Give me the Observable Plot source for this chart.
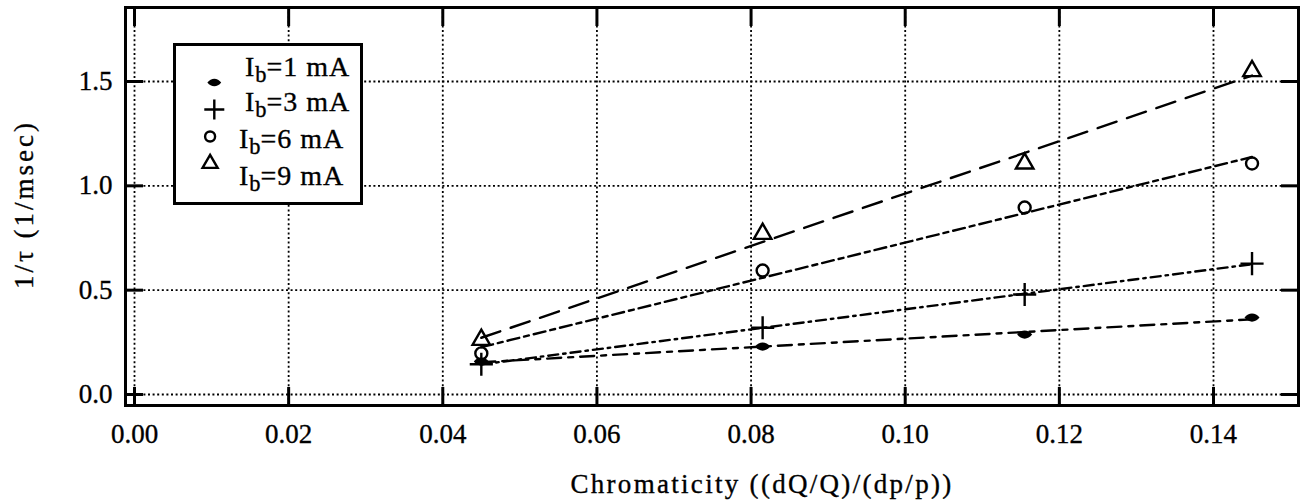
<!DOCTYPE html>
<html>
<head>
<meta charset="utf-8">
<script src="https://cdn.jsdelivr.net/npm/d3@7"></script>
<script src="https://cdn.jsdelivr.net/npm/@observablehq/plot@0.6"></script>
<style>
  html, body { margin: 0; padding: 0; background: #fff; }
  #wrap { position: relative; width: 1301px; height: 503px; font-family: "Liberation Serif", serif; color: #000; }
  #wrap svg { font-family: "Liberation Serif", serif; }
  #wrap > svg text { stroke: #000; stroke-width: 0.35px; }
  #legend { position: absolute; left: 173px; top: 43px; width: 190px; height: 162px; box-sizing: border-box;
            border: 3px solid #000; background: #fff; }
  #legend .sym { position: absolute; left: 0; top: 0; }
  #legend .row { position: absolute; font-size: 28px; letter-spacing: 1px; line-height: 1; white-space: nowrap;
                 -webkit-text-stroke: 0.35px #000; }
  #legend sub { font-size: 80%; vertical-align: -0.28em; line-height: 0; letter-spacing: 0; }
</style>
</head>
<body>
<div id="wrap"></div>
<script>
// ---- data ----
const chromaticity = [0.045, 0.0815, 0.1155, 0.145];
const rate1mA = [0.158, 0.23, 0.287, 0.369];
const rate3mA = [0.145, 0.32, 0.479, 0.627];
const rate6mA = [0.197, 0.594, 0.896, 1.107];
const rate9mA = [0.262, 0.77, 1.107, 1.55];
const currents = ["1 mA", "3 mA", "6 mA", "9 mA"];
const xTicks = [0, 0.02, 0.04, 0.06, 0.08, 0.10, 0.12, 0.14];
const yTicks = [0, 0.5, 1.0, 1.5];
const xTitle = "Chromaticity ((dQ/Q)/(dp/p))";
const yTitle = "1/τ (1/msec)";

// ---- styling ----
const lens = {
  draw(context, size) {
    const r = Math.sqrt(size / Math.PI);
    context.moveTo(-1.5 * r, 0);
    context.bezierCurveTo(-0.7 * r, -1.1 * r, 0.7 * r, -1.1 * r, 1.5 * r, 0);
    context.bezierCurveTo(0.7 * r, 1.1 * r, -0.7 * r, 1.1 * r, -1.5 * r, 0);
    context.closePath();
  }
};
const styles = [
  {symbol: lens, r: 5, filled: true, dash: "14,7,5,7"},
  {symbol: "plus", r: 7.5, filled: false, dash: "10,5,2.5,5"},
  {symbol: "circle", r: 6, filled: false, dash: "12,5,5,5"},
  {symbol: "triangle", r: 6.5, filled: false, dash: "20,11"}
];
const legendStyles = [
  {symbol: lens, r: 4.6, filled: true},
  {symbol: "plus", r: 6.5, filled: false},
  {symbol: "circle", r: 5, filled: false},
  {symbol: "triangle", r: 5.6, filled: false}
];
const values = [rate1mA, rate3mA, rate6mA, rate9mA];
const series = currents.map((c, i) => ({
  name: c,
  style: styles[i],
  legendStyle: legendStyles[i],
  rows: chromaticity.map((x, j) => ({x, y: values[i][j], current: c}))
}));

function dotMark(data, st, extra = {}) {
  return Plot.dot(data, {
    x: "x", y: "y", symbol: st.symbol, r: st.r,
    fill: st.filled ? "black" : "none",
    stroke: st.filled ? "none" : "black",
    strokeWidth: 2.4, ...extra
  });
}

const fontSize = 27;
const chart = Plot.plot({
  width: 1301,
  height: 503,
  marginLeft: 125,
  marginRight: 3,
  marginTop: 7,
  marginBottom: 98,
  style: {fontFamily: "Liberation Serif", background: "white", color: "black", overflow: "visible"},
  x: {domain: [-0.001168, 0.15103], axis: null},
  y: {domain: [-0.0527, 1.8546], axis: null},
  marks: [
    Plot.gridX(xTicks, {stroke: "black", strokeOpacity: 1, strokeWidth: 1.8, strokeDasharray: "2,2.6"}),
    Plot.gridY(yTicks, {stroke: "black", strokeOpacity: 1, strokeWidth: 1.8, strokeDasharray: "2,2.6"}),
    // inward ticks on all four sides
    Plot.axisX(xTicks, {anchor: "bottom", tickSize: -18, strokeWidth: 3, fill: "none"}),
    Plot.axisX(xTicks, {anchor: "top", tickSize: -18, strokeWidth: 3, fill: "none"}),
    Plot.axisY(yTicks, {anchor: "left", tickSize: -18, strokeWidth: 3, fill: "none"}),
    Plot.axisY(yTicks, {anchor: "right", tickSize: -18, strokeWidth: 3, fill: "none"}),
    // tick labels
    Plot.axisX(xTicks, {anchor: "bottom", tickSize: 0, tickPadding: 18, fontSize, tickFormat: d3.format(".2f"), label: null}),
    Plot.axisY(yTicks, {anchor: "left", tickSize: 0, tickPadding: 13, fontSize, tickFormat: d3.format(".1f"), label: null}),
    Plot.frame({stroke: "black", strokeWidth: 3}),
    // fitted lines
    ...series.map(s => Plot.linearRegressionY(s.rows, {x: "x", y: "y", stroke: "black", strokeWidth: 2.4, strokeDasharray: s.style.dash, ci: 0})),
    // data points
    ...series.map(s => dotMark(s.rows, s.style)),
    // axis titles
    Plot.text([xTitle], {frameAnchor: "bottom", textAnchor: "middle", dx: 50, dy: 79, lineAnchor: "middle", fontSize, fill: "black"}),
    Plot.text([yTitle], {frameAnchor: "left", textAnchor: "middle", dx: -101, dy: -2, rotate: -90, lineAnchor: "middle", fontSize, fill: "black"})
  ]
});

d3.select(chart).selectAll("text")
  .filter(function() { return this.textContent === xTitle; })
  .style("letter-spacing", "2.3px");
d3.select(chart).selectAll("text")
  .filter(function() { return this.textContent === yTitle; })
  .style("letter-spacing", "3px");

const wrap = document.getElementById("wrap");
wrap.appendChild(chart);

// ---- legend ----
const legend = document.createElement("div");
legend.id = "legend";
const rowCenters = [22, 57, 94, 131];
const rowLefts = [69, 69, 63, 63];
const legendPlot = Plot.plot({
  width: 70, height: 156, margin: 0,
  style: {background: "transparent", overflow: "visible"},
  x: {domain: [0, 1], axis: null},
  y: {type: "point", domain: currents, range: [rowCenters[0], rowCenters[3]], axis: null},
  marks: series.map((s, i) => dotMark([{x: i < 2 ? 0.54 : 0.48, y: s.name}], s.legendStyle))
});
legendPlot.classList.add("sym");
legend.appendChild(legendPlot);
series.forEach((s, i) => {
  const row = document.createElement("div");
  row.className = "row";
  row.style.top = (rowCenters[i] - 15) + "px";
  row.style.left = rowLefts[i] + "px";
  row.innerHTML = "I<sub>b</sub>=" + s.name;
  legend.appendChild(row);
});
wrap.appendChild(legend);
</script>
</body>
</html>
